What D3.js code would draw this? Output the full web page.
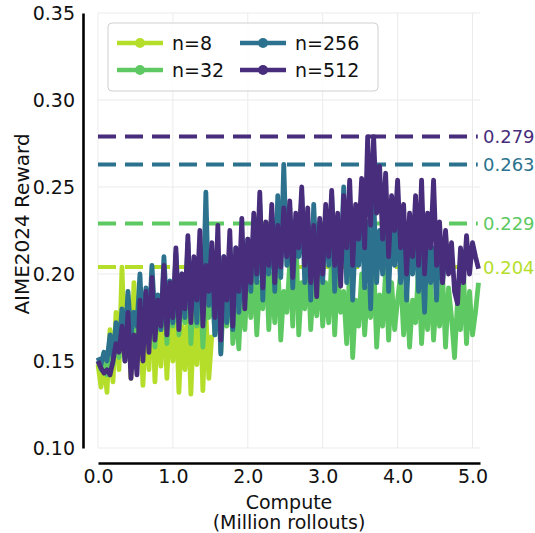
<!DOCTYPE html>
<html>
<head>
<meta charset="utf-8">
<script src="https://cdn.jsdelivr.net/npm/d3@7"></script>
<style>
  html, body { margin: 0; padding: 0; background: #fff; }
  svg { display: block; font-family: "DejaVu Sans", sans-serif; }
</style>
</head>
<body>
<svg id="chart" width="535" height="533"></svg>
<script>
// ---- data ----
const seriesNames = ["n=8", "n=32", "n=256", "n=512"];
const stepSize = 0.04; // Million rollouts between evaluations
const rewardN8 = [
  0.148,0.135,0.150,0.132,0.168,0.138,0.178,0.145,0.204,0.152,
  0.188,0.140,0.195,0.150,0.182,0.136,0.176,0.145,0.190,0.138,
  0.172,0.147,0.185,0.140,0.178,0.150,0.186,0.132,0.170,0.145,
  0.182,0.131,0.175,0.148,0.190,0.133,0.178,0.140,0.165
];
const rewardN32 = [
  0.150,0.145,0.155,0.142,0.160,0.148,0.165,0.152,
  0.175,0.150,0.180,0.158,0.170,0.160,0.185,0.155,
  0.178,0.162,0.190,0.158,0.182,0.168,0.195,0.160,0.185,0.170,
  0.200,0.165,0.188,0.172,0.205,0.160,0.192,0.170,0.198,0.158,0.185,0.175,
  0.195,0.165,0.205,0.155,0.188,0.170,0.210,0.160,0.182,0.157,0.195,0.168,0.200,
  0.175,0.205,0.165,0.195,0.180,0.215,0.168,0.200,0.172,0.210,0.162,0.190,
  0.178,0.206,0.170,0.229,0.165,0.195,0.180,0.210,0.168,0.198,0.176,0.205,0.170,
  0.195,0.172,0.210,0.165,0.200,0.178,0.190,0.160,0.205,0.152,0.185,0.170,
  0.200,0.165,0.192,0.175,0.210,0.158,0.188,0.170,0.202,0.162,0.195,0.168,0.185,
  0.200,0.165,0.192,0.158,0.185,0.172,0.205,0.160,0.190,0.168,0.198,0.162,
  0.188,0.170,0.200,0.158,0.192,0.175,0.152,0.185,0.168,0.200,0.160,0.190,0.165,0.178,0.195
];
const rewardN256 = [
  0.152,0.148,0.155,0.150,0.165,0.152,0.172,0.158,
  0.180,0.160,0.190,0.165,0.178,0.170,0.200,0.162,
  0.192,0.170,0.205,0.175,0.188,0.168,0.210,0.178,0.196,0.172,
  0.212,0.180,0.200,0.175,0.218,0.185,0.205,0.172,0.215,0.178,0.247,0.182,
  0.205,0.165,0.198,0.154,0.210,0.172,0.200,0.168,0.215,0.178,0.205,0.185,0.220,
  0.190,0.228,0.195,0.240,0.185,0.225,0.200,0.235,0.190,0.245,0.198,0.263,
  0.205,0.238,0.192,0.228,0.210,0.245,0.195,0.230,0.185,0.240,0.200,0.225,0.195,
  0.235,0.205,0.245,0.190,0.230,0.200,0.250,0.195,0.238,0.185,0.225,0.205,
  0.240,0.192,0.230,0.180,0.245,0.195,0.225,0.200,0.238,0.190,0.228,0.205,0.235,
  0.195,0.225,0.185,0.220,0.200,0.230,0.190,0.218,0.178,0.225,0.195,0.215,
  0.185,0.222,0.195,0.215,0.208
];
const rewardN512 = [
  0.150,0.146,0.143,0.145,0.142,0.150,0.160,0.155,
  0.170,0.150,0.178,0.140,0.165,0.142,0.185,0.150,
  0.190,0.155,0.198,0.162,0.185,0.170,0.205,0.165,0.195,0.175,
  0.215,0.168,0.200,0.180,0.222,0.172,0.210,0.185,0.225,0.170,0.205,0.190,
  0.218,0.175,0.228,0.162,0.210,0.185,0.225,0.170,0.215,0.190,0.232,0.180,0.220,
  0.195,0.235,0.200,0.247,0.192,0.230,0.205,0.240,0.195,0.228,0.204,0.238,
  0.210,0.242,0.198,0.235,0.215,0.250,0.205,0.238,0.195,0.228,0.187,0.232,0.200,
  0.240,0.210,0.248,0.205,0.235,0.193,0.245,0.215,0.254,0.205,0.240,0.220,
  0.255,0.215,0.279,0.228,0.279,0.235,0.262,0.220,0.258,0.210,0.245,0.225,0.254,
  0.215,0.240,0.200,0.235,0.210,0.245,0.205,0.254,0.200,0.235,0.215,0.254,
  0.205,0.230,0.195,0.225,0.200,0.218,0.190,0.183,0.215,0.195,0.222,0.200,0.218,0.210,0.203
];
const maxLabels = ["0.204", "0.229", "0.263", "0.279"];
const xTicks = [0, 1, 2, 3, 4, 5];
const yTicks = [0.10, 0.15, 0.20, 0.25, 0.30, 0.35];
const colors = ["#b5de2b", "#5ec962", "#2c728e", "#472d7b"];

// ---- chart ----
const svg = d3.select("#chart");
const x = d3.scaleLinear().domain([0, 5.1]).range([98, 480]);
const y = d3.scaleLinear().domain([0.10, 0.35]).range([448, 13]);

const allSeries = [rewardN8, rewardN32, rewardN256, rewardN512].map((vals, k) => ({
  name: seriesNames[k],
  color: colors[k],
  maxVal: +maxLabels[k],
  maxText: maxLabels[k],
  points: vals.map((v, i) => ({ x: i * stepSize, y: v }))
}));

// grid
const grid = svg.append("g");
grid.selectAll("line.gx").data(xTicks).join("line")
  .attr("x1", d => x(d)).attr("x2", d => x(d))
  .attr("y1", y(0.35)).attr("y2", y(0.10))
  .attr("stroke", "#ebebeb").attr("stroke-width", 1);
grid.selectAll("line.gy").data(yTicks).join("line")
  .attr("x1", x(0)).attr("x2", x(5.1))
  .attr("y1", d => y(d)).attr("y2", d => y(d))
  .attr("stroke", "#ebebeb").attr("stroke-width", 1);

// dashed max lines (behind series)
const dash = svg.append("g");
allSeries.forEach(s => {
  dash.append("line")
    .attr("x1", x(0)).attr("x2", x(5.07))
    .attr("y1", y(s.maxVal)).attr("y2", y(s.maxVal))
    .attr("stroke", s.color).attr("stroke-width", 4)
    .attr("stroke-dasharray", "18,9");
});

// series lines
const line = d3.line().x(d => x(d.x)).y(d => y(d.y));
svg.append("g").selectAll("path").data(allSeries).join("path")
  .attr("d", d => line(d.points))
  .attr("fill", "none")
  .attr("stroke", d => d.color)
  .attr("stroke-width", 4.8)
  .attr("stroke-linejoin", "round");

// max labels
svg.append("g").selectAll("text").data(allSeries).join("text")
  .attr("x", 483).attr("y", d => y(d.maxVal))
  .attr("dominant-baseline", "central")
  .attr("fill", d => d.color)
  .attr("font-size", 18)
  .text(d => d.maxText);

// axes
const yAxis = d3.axisLeft(y).tickValues(yTicks).tickFormat(d3.format(".2f"))
  .tickSize(0).tickPadding(8);
const gy = svg.append("g").attr("transform", "translate(83,0)").call(yAxis);
gy.select(".domain").attr("stroke", "#000").attr("stroke-width", 2.6);
gy.selectAll("text").attr("font-size", 19).attr("fill", "#111").attr("font-family", "DejaVu Sans");

const xAxis = d3.axisBottom(x).tickValues(xTicks).tickFormat(d3.format(".1f"))
  .tickSize(0).tickPadding(7);
const gx = svg.append("g").attr("transform", "translate(0,463)").call(xAxis);
gx.select(".domain").attr("stroke", "#000").attr("stroke-width", 2.6);
gx.selectAll("text").attr("font-size", 19).attr("fill", "#111").attr("font-family", "DejaVu Sans");

// axis labels
svg.append("text").attr("x", 289).attr("y", 509)
  .attr("text-anchor", "middle").attr("font-size", 19).attr("fill", "#111")
  .text("Compute");
svg.append("text").attr("x", 289).attr("y", 529)
  .attr("text-anchor", "middle").attr("font-size", 19).attr("fill", "#111")
  .text("(Million rollouts)");
svg.append("text")
  .attr("transform", "translate(29,224) rotate(-90)")
  .attr("text-anchor", "middle").attr("font-size", 20).attr("fill", "#111")
  .text("AIME2024 Reward");

// legend
const leg = svg.append("g");
leg.append("rect").attr("x", 108).attr("y", 23).attr("width", 270).attr("height", 68)
  .attr("rx", 4).attr("fill", "#fff").attr("fill-opacity", 0.85)
  .attr("stroke", "#d0d0d0").attr("stroke-width", 1);
const legPos = [[117, 43], [117, 70], [240, 43], [240, 70]];
allSeries.forEach((s, k) => {
  const [lx, ly] = legPos[k];
  leg.append("line").attr("x1", lx).attr("x2", lx + 46).attr("y1", ly).attr("y2", ly)
    .attr("stroke", s.color).attr("stroke-width", 4.5);
  leg.append("circle").attr("cx", lx + 23).attr("cy", ly).attr("r", 5).attr("fill", s.color);
  leg.append("text").attr("x", lx + 55).attr("y", ly).attr("dominant-baseline", "central")
    .attr("font-size", 19).attr("fill", "#111").text(s.name);
});
</script>
</body>
</html>
